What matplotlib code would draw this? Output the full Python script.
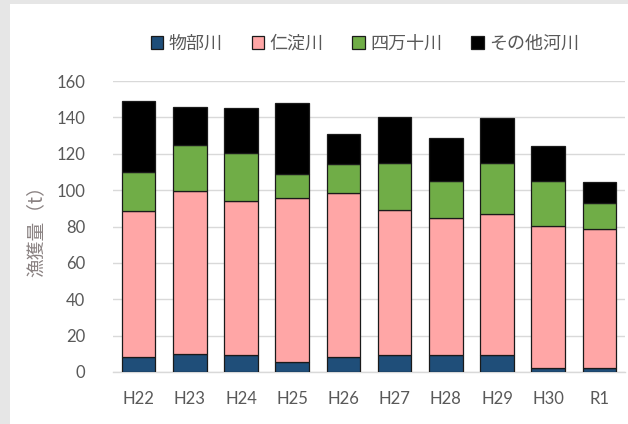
import matplotlib
matplotlib.use('Agg')

import numpy as np
import matplotlib.pyplot as plt
from matplotlib.patches import Rectangle

# Catch per river (t)
years = ['H22', 'H23', 'H24', 'H25', 'H26', 'H27', 'H28', 'H29', 'H30', 'R1']
monobe = [8.3, 9.9, 9.2, 5.5, 8.1, 9.4, 9.4, 9.4, 2.4, 2.4]
niyodo = [80.1, 89.7, 84.8, 90.4, 90.2, 79.5, 75.3, 77.7, 77.9, 76.0]
shimanto = [21.4, 25.1, 26.5, 12.8, 16.0, 25.9, 20.2, 27.7, 24.6, 14.7]
others = [39.0, 21.1, 24.6, 39.0, 16.5, 25.4, 24.0, 24.8, 19.1, 11.1]

series_names = ['物部川', '仁淀川', '四万十川', 'その他河川']
series_colors = ['#1F4E79', '#FFA6A6', '#70AD47', '#000000']

plt.rcParams['font.family'] = ['Lato', 'Noto Sans CJK JP', 'DejaVu Sans']
TEXT = '#595959'

fig = plt.figure(figsize=(6.28, 4.24), dpi=100)
fig.patch.set_facecolor('#e6e6e6')

# White page area inside the grey screenshot border
fig.patches.append(Rectangle((10 / 628, 0), 1, 1 - 4 / 424, transform=fig.transFigure,
                             facecolor='white', edgecolor='none', zorder=-10))

ax = fig.add_axes([113 / 628, 52 / 424, 512 / 628, 291 / 424])
ax.set_facecolor('none')

x = np.arange(len(years))
bottom = np.zeros(len(years))
for vals, name, col in zip([monobe, niyodo, shimanto, others], series_names, series_colors):
    ax.bar(x, vals, width=0.66, bottom=bottom, color=col, edgecolor='#1a1a1a',
           linewidth=0.9, label=name, zorder=3)
    bottom += np.array(vals)

ax.set_xlim(-0.5, len(years) - 0.5)
ax.set_ylim(0, 160)
ax.set_yticks(np.arange(0, 161, 20))
ax.set_xticks(x)
ax.set_xticklabels(years)

ax.grid(axis='y', color='#d9d9d9', linewidth=1.0, zorder=0)
for s in ['top', 'right', 'left']:
    ax.spines[s].set_visible(False)
ax.spines['bottom'].set_color('#d9d9d9')
ax.spines['bottom'].set_linewidth(1.0)

ax.tick_params(axis='both', length=0, labelsize=12, labelcolor=TEXT)
ax.tick_params(axis='y', pad=20)
ax.tick_params(axis='x', pad=14)

ax.set_ylabel('漁獲量（t）', fontsize=13.5, color='#8a8282',
              family=['Noto Sans CJK JP', 'DejaVu Sans'], labelpad=7)

handles, labels = ax.get_legend_handles_labels()
leg = fig.legend(handles, labels, loc='center', ncol=4, frameon=False,
                 bbox_to_anchor=(365 / 628, 1 - 44 / 424),
                 prop={'family': ['Noto Sans CJK JP', 'DejaVu Sans'], 'size': 13},
                 handlelength=0.7, handleheight=0.7, handletextpad=0.3,
                 columnspacing=1.6, labelcolor=TEXT)

fig.savefig('out.png', dpi=100, facecolor=fig.get_facecolor())
plt.close(fig)
